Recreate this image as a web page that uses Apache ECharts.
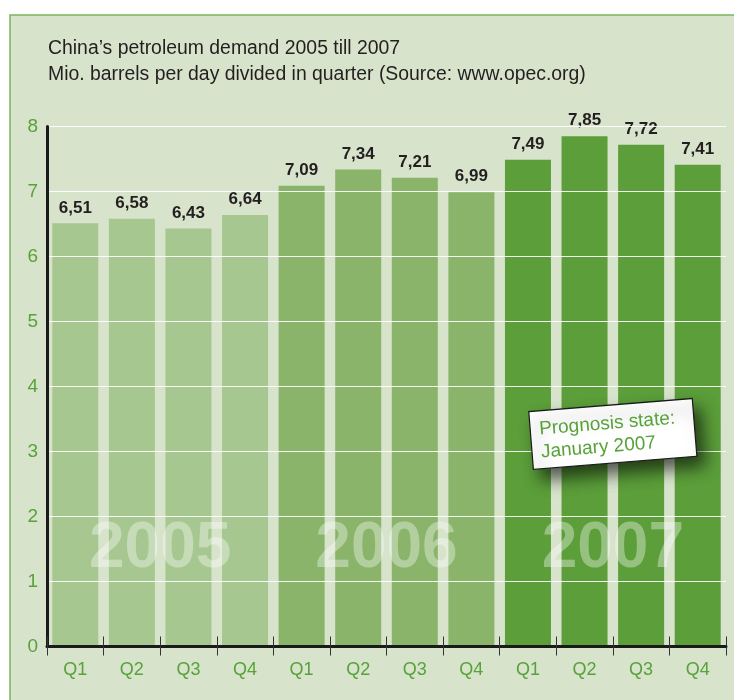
<!DOCTYPE html>
<html>
<head>
<meta charset="utf-8">
<script src="https://cdn.jsdelivr.net/npm/echarts@6/dist/echarts.min.js"></script>
<style>
html,body{margin:0;padding:0;background:#fff;}
#chart{width:734px;height:700px;}
</style>
</head>
<body>
<div id="chart"></div>
<script>
// ---- data ----
var categories = ['Q1','Q2','Q3','Q4','Q1','Q2','Q3','Q4','Q1','Q2','Q3','Q4'];
var values = [6.51, 6.58, 6.43, 6.64, 7.09, 7.34, 7.21, 6.99, 7.49, 7.85, 7.72, 7.41];
var yearOfBar = [0,0,0,0,1,1,1,1,2,2,2,2];
var years = ['2005','2006','2007'];
var yearColors = ['#a6c78f', '#89b46a', '#5b9e3a'];
var yTicks = [0,1,2,3,4,5,6,7,8];
var titleLines = ['China\u2019s petroleum demand 2005 till 2007', 'Mio. barrels per day divided in quarter (Source: www.opec.org)'];
var noteText = ['Prognosis state:', 'January 2007'];

var GREEN = '#58a23a';
var FONT = '"Liberation Sans", Arial, sans-serif';

var chart = echarts.init(document.getElementById('chart'), null, {renderer: 'canvas'});

var barData = values.map(function (v, i) {
  return { value: v, itemStyle: { color: yearColors[yearOfBar[i]] } };
});

var option = {
  animation: false,
  backgroundColor: '#ffffff',
  textStyle: { fontFamily: FONT },
  grid: { left: 47, right: 8, top: 126.5, bottom: 53.5, containLabel: false },
  xAxis: [{
    type: 'category',
    data: categories,
    z: 6,
    axisLine: { show: true, lineStyle: { color: '#1a1a1a', width: 3 } },
    axisTick: { show: true, alignWithLabel: false, length: 9, lineStyle: { color: '#333', width: 1 } },
    axisLabel: { color: GREEN, fontSize: 18, margin: 15, fontFamily: FONT },
    splitLine: { show: false }
  }, {
    type: 'category',
    data: categories,
    position: 'bottom',
    z: 6,
    axisLine: { show: false },
    axisTick: { show: true, inside: true, length: 10, lineStyle: { color: '#333', width: 1 } },
    axisLabel: { show: false },
    splitLine: { show: false }
  }],
  yAxis: {
    type: 'value',
    min: yTicks[0],
    max: yTicks[yTicks.length - 1],
    interval: 1,
    z: 5,
    axisLine: { show: true, lineStyle: { color: '#1a1a1a', width: 3 } },
    axisTick: { show: false },
    axisLabel: { color: GREEN, fontSize: 19, margin: 9, fontFamily: FONT },
    splitLine: { show: true, lineStyle: { color: 'rgba(255,255,255,0.9)', width: 1.2 } }
  },
  series: [{
    type: 'bar',
    data: barData,
    barCategoryGap: '18.7%',
    z: 2,
    label: {
      show: true,
      position: 'top',
      distance: 7,
      color: '#231f20',
      fontSize: 17,
      fontWeight: 'bold',
      fontFamily: FONT,
      formatter: function (p) { return p.value.toFixed(2).replace('.', ','); }
    }
  }]
};
chart.setOption(option);

// ---- annotations positioned through the axes ----
function px(x, y) { return chart.convertToPixel({ xAxisIndex: 0, yAxisIndex: 0 }, [x, y]); }

var graphics = [];
// panel
graphics.push({
  type: 'rect', z: -10, silent: true,
  shape: { x: 10, y: 15, width: 760, height: 720 },
  style: { fill: '#d7e3cb', stroke: '#7ab55c', lineWidth: 1.5 }
});
// title
graphics.push({
  type: 'text', z: 10, left: 48, top: 36,
  style: { text: titleLines[0] + '\n' + titleLines[1], fill: '#231f20', font: '19.4px ' + FONT, lineHeight: 26 }
});
// year watermarks
years.forEach(function (yr, k) {
  var a = px(k * 4 + 1, 1.5), b = px(k * 4 + 2, 1.5);
  graphics.push({
    type: 'text', z: 20,
    x: (a[0] + b[0]) / 2, y: a[1],
    style: { text: yr, fill: 'rgba(255,255,255,0.36)', font: 'bold 64px ' + FONT, textAlign: 'center', textVerticalAlign: 'middle' }
  });
});
// prognosis box
var c1 = px(9, 3.27), c2 = px(10, 3.27);
graphics.push({
  type: 'group', z: 30,
  x: (c1[0] + c2[0]) / 2, y: c1[1],
  rotation: 0.08,
  children: [{
    type: 'rect', z: 30,
    shape: { x: -82, y: -29, width: 164, height: 58 },
    style: { fill: '#ffffff', stroke: '#1a1a1a', lineWidth: 1.2, shadowBlur: 16, shadowOffsetX: 8, shadowOffsetY: 10, shadowColor: 'rgba(0,0,0,0.6)' }
  }, {
    type: 'text', z: 31,
    x: -73, y: -22,
    style: { text: noteText.join('\n'), fill: GREEN, font: '19px ' + FONT, lineHeight: 23 }
  }]
});

chart.setOption({ graphic: graphics });
</script>
</body>
</html>
